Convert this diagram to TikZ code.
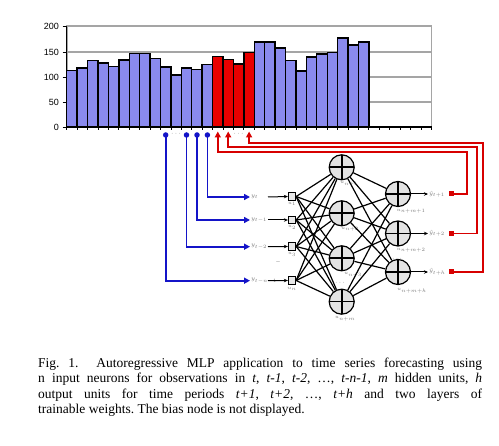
\documentclass[tikz,border=0pt]{standalone}
\usepackage{fontspec}
\setmainfont{Liberation Serif}
\setsansfont{Liberation Sans}
\usetikzlibrary{arrows.meta}
\definecolor{barblue}{RGB}{138,138,238}
\definecolor{barred}{RGB}{232,0,0}
\definecolor{lineblue}{RGB}{20,20,200}
\definecolor{linered}{RGB}{215,0,0}
\definecolor{gridgray}{RGB}{165,165,165}
\definecolor{labgray}{RGB}{120,120,120}
\begin{document}
\begin{tikzpicture}[x=1pt,y=-1pt,
  gridline/.style={gridgray,line width=1.8pt},
  barb/.style={draw=black,line width=1.4pt,fill=barblue},
  barr/.style={draw=black,line width=1.4pt,fill=barred},
  axislab/.style={anchor=east,inner sep=0,font=\sffamily\fontsize{9}{9}\selectfont},
  bmark/.style={circle,fill=lineblue,inner sep=0,minimum size=5.5pt},
  blueline/.style={lineblue,line width=1.8pt,-{Triangle[width=6pt,length=6pt]}},
  redline/.style={linered,line width=1.8pt,-{Triangle[width=6pt,length=6pt]}},
  inlab/.style={anchor=west,inner sep=1pt,text=labgray,font=\fontsize{6}{7}\selectfont},
  sublab/.style={inner sep=0,text=labgray,font=\fontsize{4.5}{5}\selectfont},
  insq/.style={rectangle,draw,line width=0.8pt,fill=gray!18,minimum size=7.5pt,inner sep=0},
  neuron/.style={circle,draw,line width=1.2pt,fill=gray!22,minimum size=25pt,inner sep=0,
    path picture={\draw[line width=1.6pt] (path picture bounding box.north) -- (path picture bounding box.south);
                  \draw[line width=1.6pt] (path picture bounding box.west) -- (path picture bounding box.east);}},
  conn/.style={black,line width=1.2pt},
  short/.style={black,line width=1pt,-{Stealth[length=4pt,width=3.5pt]}},
  redsq/.style={rectangle,fill=linered,minimum size=5pt,inner sep=0},
  dotlab/.style={inner sep=0,text=labgray,font=\fontsize{7}{7}\selectfont}
]
\useasboundingbox (0,0) rectangle (499,446);
\fill[white] (0,0) rectangle (499,446);

% ---- chart ----
\draw[gridline] (66.7,26) rectangle (431.5,127);
\foreach \yy in {52,77,102} \draw[gridline] (66.7,\yy) -- (431.5,\yy);
\foreach \v [count=\i from 0] in {113,118,133,128,121,134,147,147,137,120,104,118,115,125}
  \draw[barb] ({66.7+10.42*\i},127) rectangle ({66.7+10.42*(\i+1)},{127-\v/2});
\foreach \v [count=\i from 14] in {141,135,126,149}
  \draw[barr] ({66.7+10.42*\i},127) rectangle ({66.7+10.42*(\i+1)},{127-\v/2});
\foreach \v [count=\i from 18] in {170,170,158,133,112,140,146,149,178,164,170}
  \draw[barb] ({66.7+10.42*\i},127) rectangle ({66.7+10.42*(\i+1)},{127-\v/2});
\draw[black,line width=1pt] (66.7,26) -- (66.7,127);
\draw[black,line width=1.2pt] (66.7,127) -- (431.5,127);
\foreach \i in {0,...,35} \draw[black,line width=0.8pt] ({66.7+10.42*\i},127) -- ++(0,3.5);
\foreach \yy/\t in {26/200,52/150,77/100,102/50,127/0} {
  \draw[black,line width=0.8pt] (62.5,\yy) -- (66.7,\yy);
  \node[axislab] at (59,\yy) {\t};
}

% ---- markers under the chart ----
\node[bmark] (bm10) at (165.7,135) {};
\node[bmark] (bm12) at (186.5,135) {};
\node[bmark] (bm13) at (197.0,135) {};
\node[bmark] (bm14) at (207.4,135) {};
\node[dotlab] (bd) at (176.1,134) {$\cdots$};
\coordinate (rb15) at (217.8,131.5);
\coordinate (rb16) at (228.2,131.5);
\coordinate (rb18) at (249.1,131.5);
\node[dotlab] (rd) at (238.6,134) {$\cdots$};

% ---- input layer ----
\node[inlab] (y1) at (250,197) {$y_t$};
\node[inlab] (y2) at (250,220) {$y_{t-1}$};
\node[inlab] (y3) at (250,246.7) {$y_{t-2}$};
\node[inlab] (y4) at (250,280.7) {$y_{t-n-1}$};
\node[insq] (u1) at (292,196.5) {};
\node[insq] (u2) at (292,220) {};
\node[insq] (u3) at (292,246.5) {};
\node[insq] (u4) at (292,280.5) {};
\node[sublab] at (292,204) {$u_1$};
\node[sublab] at (292,227.5) {$u_2$};
\node[sublab] at (292,254.5) {$u_3$};
\node[sublab] at (292,288.5) {$u_n$};
\node[dotlab] (idots) at (278,263) {--};
\foreach \k/\yy in {1/197,2/220,3/246.7,4/280.7} {
  \coordinate (s\k) at (268,\yy);
  \draw[short] (s\k) -- (u\k.west);
}
\draw[blueline] (bm14.center) |- (y1.west);
\draw[blueline] (bm13.center) |- (y2.west);
\draw[blueline] (bm12.center) |- (y3.west);
\draw[blueline] (bm10.center) |- (y4.west);

% ---- hidden layer ----
\node[neuron] (h1) at (341.7,167.3) {};
\node[neuron] (h2) at (341.7,213.3) {};
\node[neuron] (h3) at (341.7,258.3) {};
\node[neuron] (h4) at (341.7,301.7) {};
\node[sublab] at (349,184) {$u_{n+1}$};
\node[sublab] at (350,229.5) {$u_{n+2}$};
\node[sublab] at (353,275) {$u_{n+3}$};
\node[sublab] at (345,319) {$u_{n+m}$};
\node[dotlab] (hdots) at (340,283) {$\cdots$};

% ---- output layer ----
\node[neuron] (o1) at (398,194) {};
\node[neuron] (o2) at (398,233.5) {};
\node[neuron] (o3) at (398,272) {};
\node[sublab] at (411,211.5) {$u_{n+m+1}$};
\node[sublab] at (411,250.5) {$u_{n+m+2}$};
\node[sublab] at (412,290.5) {$u_{n+m+h}$};
\node[dotlab] (odots) at (397,259) {$\cdots$};

% ---- connections ----
\foreach \a in {1,...,4} \foreach \b in {1,...,4} \draw[conn] (u\a.east) -- (h\b);
\foreach \a in {1,...,4} \foreach \b in {1,...,3} \draw[conn] (h\a) -- (o\b);

% ---- outputs ----
\node[inlab] (yo1) at (428,194) {$\hat{y}_{t+1}$};
\node[inlab] (yo2) at (428,233.5) {$\hat{y}_{t+2}$};
\node[inlab] (yo3) at (428,272) {$\hat{y}_{t+h}$};
\foreach \k in {1,2,3} \draw[short] (o\k.east) -- (yo\k.west);
\node[redsq] (r1) at (451.7,194) {};
\node[redsq] (r2) at (451.7,233.5) {};
\node[redsq] (r3) at (451.7,272) {};
\coordinate (k1) at (466.7,152.3);
\coordinate (k2) at (476.7,146.7);
\coordinate (k3) at (483.3,142.7);
\draw[redline] (r1.center) -| (k1) -| (rb15);
\draw[redline] (r2.center) -| (k2) -| (rb16);
\draw[redline] (r3.center) -| (k3) -| (rb18);

% ---- caption ----
\node[anchor=north west,text width=444pt,align=justify,inner sep=0,
      font=\fontsize{13.5}{15.2}\selectfont\frenchspacing] (cap) at (38,358)
{Fig. 1.\ \ Autoregressive MLP application to time series forecasting using\linebreak
n input neurons for observations in \textit{t}, \textit{t-1}, \textit{t-2}, \dots, \textit{t-n-1}, \textit{m} hidden units, \textit{h}\linebreak
output units for time periods \textit{t+1}, \textit{t+2}, \dots, \textit{t+h} and two layers of\linebreak
trainable weights. The bias node is not displayed.};
\end{tikzpicture}
\end{document}
